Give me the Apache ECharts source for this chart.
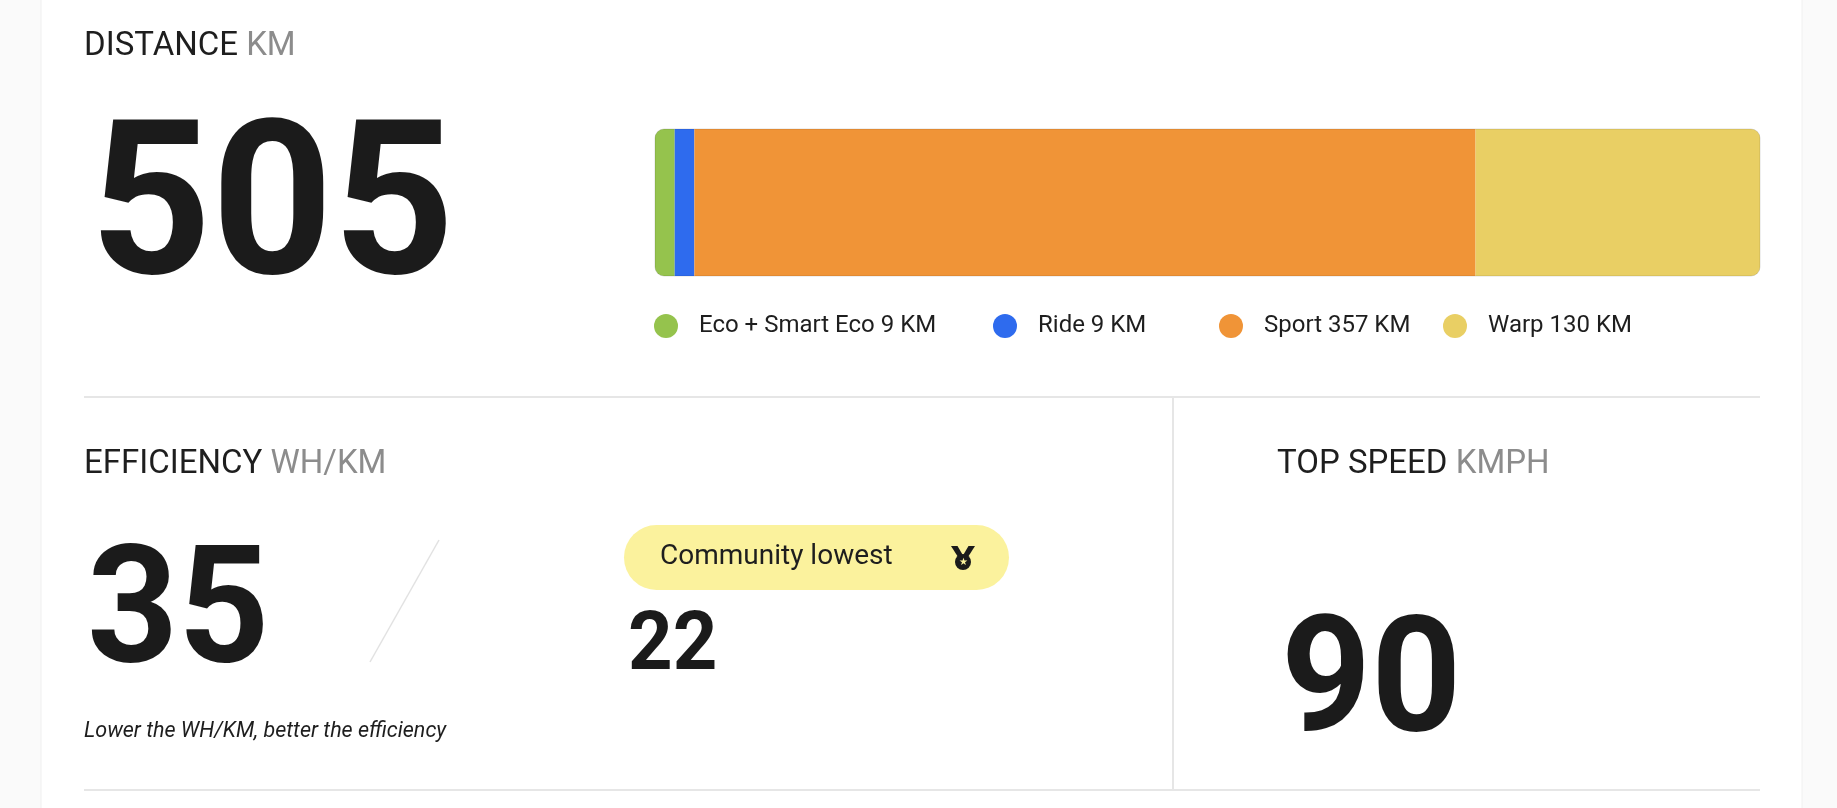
<!DOCTYPE html>
<html>
<head>
<meta charset="utf-8">
<title>Ride stats</title>
<script src="https://cdn.jsdelivr.net/npm/echarts@6/dist/echarts.min.js"></script>
<style>
  html, body { margin: 0; padding: 0; background: #fafafa; }
  #chart { width: 1837px; height: 808px; }
</style>
</head>
<body>
<div id="chart"></div>
<script>
// ride modes and the distance done in each (KM)
const modes = ['Eco + Smart Eco', 'Ride', 'Sport', 'Warp']
const distances = [9, 9, 357, 130]
const modeColors = ['#95c34d', '#2e6bee', '#f09437', '#e9cf64']
// single figures
const efficiency = 35
const communityLowest = 22
const topSpeed = 90

const FONT = 'Roboto, "Noto Sans", sans-serif'
const totalDistance = distances.reduce((a, b) => a + b, 0)

const chart = echarts.init(document.getElementById('chart'), null, { renderer: 'canvas' })

// legends sit in their own slots, like the page layout
const legendLeft = [654, 993, 1219, 1443]

function legendCreator (name, i) {
  return {
    data: [name],
    left: legendLeft[i],
    top: 314,
    padding: 0,
    icon: 'circle',
    itemWidth: 24,
    itemHeight: 24,
    selectedMode: false,
    formatter: n => `${n} ${distances[modes.indexOf(n)]} KM`,
    textStyle: {
      color: '#1e1e1e',
      fontFamily: FONT,
      fontSize: 24,
      padding: [0, 0, 0, 16]
    }
  }
}

const series = modes.map((name, i) => {
  let radius = 0
  if (i === 0) radius = [9, 0, 0, 9]
  if (i === modes.length - 1) radius = [0, 9, 9, 0]
  return {
    name: name,
    type: 'bar',
    stack: 'total',
    barWidth: '100%',
    silent: true,
    itemStyle: { color: modeColors[i], borderRadius: radius },
    data: [distances[i]]
  }
})

function heading (x, y, main, unit) {
  return {
    type: 'text',
    x: x,
    y: y,
    style: {
      text: `{a|${main}}{b|\u00a0${unit}}`,
      textVerticalAlign: 'middle',
      rich: {
        a: { fontFamily: FONT, fontSize: 33, fill: '#1e1e1e' },
        b: { fontFamily: FONT, fontSize: 33, fill: '#8c8c8c' }
      }
    }
  }
}

// middle alignment sits ~0.1em above the digit centre, so nudge it down
function bigNumber (x, y, value, size, sx) {
  return {
    type: 'text',
    x: x,
    y: y + size * 0.1,
    scaleX: sx,
    style: {
      text: String(value),
      fontFamily: FONT,
      fontWeight: 'bold',
      fontSize: size,
      fill: '#1b1b1b',
      textVerticalAlign: 'middle'
    }
  }
}

const divider = { stroke: '#e6e6e6', lineWidth: 2 }

const graphic = [
  // card
  { type: 'rect', z: -10, shape: { x: 41, y: -2, width: 1761, height: 812 }, style: { fill: '#fff', stroke: '#f0f0f0', lineWidth: 1 } },
  heading(84, 47, 'DISTANCE', 'KM'),
  bigNumber(90, 198, totalDistance, 215, 0.985),
  // faint outline round the bar
  { type: 'rect', z: 100, shape: { x: 655, y: 129, width: 1105, height: 147, r: 9 }, style: { fill: 'none', stroke: 'rgba(0,0,0,0.13)', lineWidth: 1 } },
  // dividers
  { type: 'line', shape: { x1: 84, y1: 397, x2: 1760, y2: 397 }, style: divider },
  { type: 'line', shape: { x1: 1173, y1: 397, x2: 1173, y2: 790 }, style: divider },
  { type: 'line', shape: { x1: 84, y1: 790, x2: 1760, y2: 790 }, style: divider },
  heading(84, 465, 'EFFICIENCY', 'WH/KM'),
  heading(1277, 465, 'TOP SPEED', 'KMPH'),
  bigNumber(87, 604, efficiency, 164, 0.97),
  { type: 'line', shape: { x1: 439, y1: 540, x2: 370, y2: 662 }, style: { stroke: '#e2e2e2', lineWidth: 1.5 } },
  // community pill
  { type: 'rect', shape: { x: 624, y: 525, width: 385, height: 65, r: 32.5 }, style: { fill: '#fbf29d' } },
  {
    type: 'text',
    x: 660,
    y: 557,
    style: { text: 'Community lowest', fontFamily: FONT, fontSize: 28, fill: '#1e1e1e', textVerticalAlign: 'middle' }
  },
  // medal icon
  { type: 'polygon', shape: { points: [[951, 546], [957.5, 546], [962.5, 554.5], [958, 557]] }, style: { fill: '#1b1b1b' } },
  { type: 'polygon', shape: { points: [[968.5, 546], [975, 546], [968, 557], [963.5, 554.5]] }, style: { fill: '#1b1b1b' } },
  { type: 'circle', shape: { cx: 963, cy: 562, r: 8 }, style: { fill: '#1b1b1b' } },
  { type: 'text', x: 963, y: 562, style: { text: '★', fontSize: 10, fill: '#fbf29d', textAlign: 'center', textVerticalAlign: 'middle' } },
  bigNumber(628, 640, communityLowest, 82, 0.95),
  {
    type: 'text',
    x: 84,
    y: 732,
    style: { text: 'Lower the WH/KM, better the efficiency', fontFamily: FONT, fontStyle: 'italic', fontSize: 21.5, fill: '#1e1e1e', textVerticalAlign: 'middle' }
  },
  bigNumber(1281, 673, topSpeed, 162, 0.97)
]

chart.setOption({
  animation: false,
  backgroundColor: 'transparent',
  grid: { left: 655, top: 129, width: 1105, height: 147, containLabel: false },
  xAxis: { type: 'value', min: 0, max: totalDistance, show: false },
  yAxis: { type: 'category', data: ['distance'], show: false },
  legend: modes.map(legendCreator),
  series: series,
  graphic: graphic
})
</script>
</body>
</html>
